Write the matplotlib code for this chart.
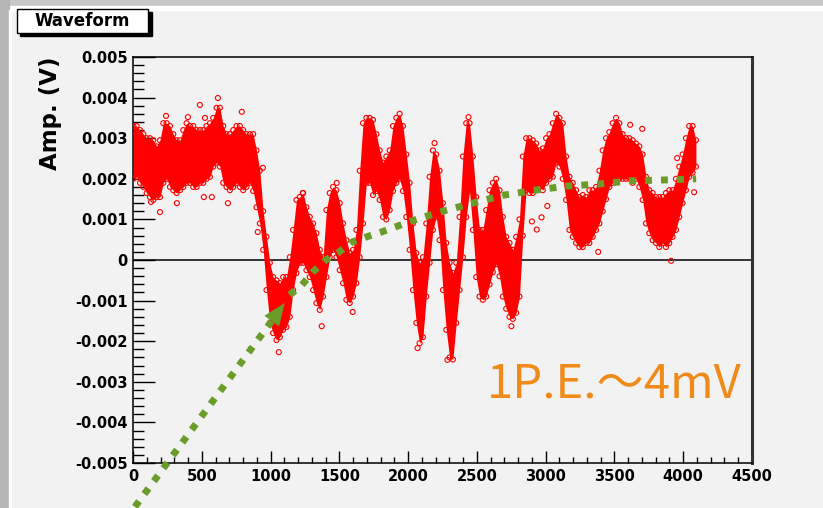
import numpy as np
import matplotlib
matplotlib.use('Agg')
import matplotlib.pyplot as plt
from matplotlib.patches import Rectangle
from matplotlib.ticker import MultipleLocator, FuncFormatter

# upper / lower edge of the dense waveform band (mV), one value every ~24 samples
hi_mv = [3.3, 3.3, 3.2, 3.1, 3.0, 3.0, 2.95, 2.8, 2.95, 3.37,
         3.37, 3.3, 3.1, 2.95, 2.95, 3.2, 3.37, 3.3, 3.3, 3.2,
         3.2, 3.2, 3.3, 3.37, 3.5, 3.75, 3.75, 3.3, 3.1, 3.1,
         3.2, 3.3, 3.3, 3.2, 3.1, 3.1, 3.1, 2.7, 2.2, 1.2,
         0.57, -0.07, -0.42, -0.5, -0.57, -0.42, -0.42, 0.07, 0.74, 1.48,
         1.55, 1.65, 1.3, 1.06, 0.9, 0.66, 0.25, 0.07, 1.23, 1.65,
         1.8, 1.72, 1.4, 0.9, 0.49, 0.17, 0.25, 0.74, 2.2, 3.37,
         3.5, 3.5, 3.45, 3.1, 2.7, 2.4, 2.55, 2.7, 3.3, 3.5,
         3.6, 3.3, 2.6, 1.9, 0.9, 0.17, -0.07, 0.07, 0.9, 2.05,
         2.7, 2.6, 2.2, 1.4, 0.42, -0.07, -0.32, -0.07, 1.06, 2.55,
         3.37, 3.37, 2.55, 1.55, 0.74, 0.74, 1.23, 1.72, 1.9, 2.0,
         1.72, 1.06, 0.57, 0.42, 0.25, 0.57, 1.0, 2.55, 3.0, 3.0,
         2.95, 2.87, 2.7, 2.75, 3.0, 3.1, 3.37, 3.6, 3.5, 3.37,
         2.55, 2.05, 1.9, 1.72, 1.55, 1.6, 1.55, 1.72, 1.72, 1.8,
         2.2, 2.7, 3.0, 3.15, 3.37, 3.5, 3.37, 3.1, 3.0, 3.0,
         2.95, 2.87, 2.8, 2.6, 2.05, 1.72, 1.65, 1.55, 1.55, 1.55,
         1.65, 1.72, 1.72, 2.0, 2.3, 2.6, 3.0, 3.3, 3.3, 2.95]
lo_mv = [2.0, 2.05, 1.9, 1.8, 1.65, 1.55, 1.48, 1.55, 1.55, 1.9,
         2.0, 1.8, 1.72, 1.65, 1.72, 1.8, 1.9, 1.9, 1.8, 1.8,
         1.9, 1.9, 2.0, 2.05, 2.3, 2.4, 2.3, 1.9, 1.8, 1.72,
         1.8, 1.9, 1.8, 1.72, 1.8, 1.9, 1.7, 1.3, 0.9, 0.25,
         -0.74, -1.55, -1.8, -1.97, -1.9, -1.72, -1.65, -1.4, -0.74, -0.32,
         -0.07, -0.07, -0.25, -0.42, -0.74, -1.06, -1.23, -0.9, -0.42, 0.07,
         0.25, 0.07, -0.25, -0.57, -0.98, -1.06, -0.9, -0.57, 0.07, 0.9,
         1.9, 1.9, 1.6, 1.7, 1.48, 1.06, 1.0, 1.23, 1.7, 1.9,
         2.0, 1.7, 1.06, 0.25, -0.74, -1.55, -2.05, -1.9, -0.9, -0.07,
         0.74, 1.06, 0.49, -0.74, -1.72, -2.4, -2.45, -1.55, -0.74, 0.07,
         1.06, 1.7, 0.74, -0.42, -0.9, -0.98, -0.9, -0.6, -0.3, -0.1,
         -0.4, -0.9, -1.2, -1.4, -1.45, -1.3, -0.9, 0.6, 1.72, 1.65,
         1.65, 1.72, 1.8, 1.72, 1.9, 2.0, 2.05, 2.4, 2.3, 2.0,
         1.48, 0.74, 0.57, 0.42, 0.32, 0.32, 0.42, 0.42, 0.57, 0.74,
         0.9, 1.2, 1.5, 1.8, 1.9, 2.0, 2.0, 2.0, 2.0, 2.0,
         1.9, 2.0, 1.8, 1.48, 0.9, 0.66, 0.49, 0.42, 0.32, 0.42,
         0.32, 0.42, 0.57, 0.74, 1.06, 1.4, 1.72, 2.05, 2.15, 2.3]

# stray points outside the band
out_sample = [486, 617, 791, 240, 399, 523, 196, 690, 131, 907, 319, 515, 573,
              1372, 1060, 1597, 1234, 1481, 944, 2069, 2286, 2751, 3382, 3912,
              2439, 2192, 3702, 3614, 3012, 4079, 3956, 2900, 2935, 2970]
out_mv = [3.82, 3.99, 3.65, 3.55, 3.52, 3.50, 1.18, 1.40, 1.43, 0.69, 1.40, 1.55, 1.55,
          -1.63, -2.27, -1.28, 1.65, 1.90, 2.27, -2.17, -2.46, -1.63, 0.20, -0.02,
          3.52, 2.88, 3.23, 3.33, 1.33, 1.67, 2.51, 0.95, 0.75, 1.05]

# hand-drawn 1 p.e. guide and arrow
guide_sample = [1139, 1227, 1306, 1401, 1488, 1590, 1698, 1807, 2025, 2228,
                2468, 2700, 2925, 3150, 3382, 3622, 3854, 4094]
guide_mv = [-0.86, -0.62, -0.30, 0.0, 0.17, 0.44, 0.57, 0.69, 0.96, 1.18,
            1.40, 1.60, 1.72, 1.82, 1.87, 1.95, 1.97, 2.0]
arrow_sample = [14, 1009, 1103]
arrow_mv = [-6.08, -1.50, -1.06]

W, H = 823, 508
green = '#6a9c2a'
orange = '#f08a18'

sample = np.arange(len(hi_mv)) * 24.2 + 2.4
hi = np.array(hi_mv) / 1000
lo = np.array(lo_mv) / 1000

plt.rcParams['font.family'] = 'DejaVu Sans'
fig = plt.figure(figsize=(W / 100, H / 100), dpi=100, facecolor='#f2f2f2')

def fx(px):
    return px / W

def fy(py):
    return 1 - py / H

# window frame strips
fig.patches.append(Rectangle((0, fy(6)), 1, 6 / H, transform=fig.transFigure, color='#c8c8c8'))
fig.patches.append(Rectangle((0, fy(10)), 1, 4 / H, transform=fig.transFigure, color='white'))
fig.patches.append(Rectangle((0, 0), 9 / W, 1, transform=fig.transFigure, color='#b4b4b4'))
fig.patches.append(Rectangle((9 / W, 0), 2 / W, fy(10), transform=fig.transFigure, color='white'))

ax = fig.add_axes([fx(133), fy(463), (752 - 133) / W, (463 - 57) / H])
ax.set_facecolor('#f2f2f2')

ax.axhline(0, color='black', lw=1.1, zorder=1)
ax.fill_between(sample, lo, hi, color='red', lw=0, zorder=2)
ax.scatter(np.r_[sample, sample], np.r_[hi, lo], s=13, facecolors='none',
           edgecolors='red', linewidths=0.8, zorder=3)
ax.scatter(out_sample, np.array(out_mv) / 1000, s=13, facecolors='none',
           edgecolors='red', linewidths=0.8, zorder=3)

dots = dict(color=green, lw=5, ls=(0, (1, 1.3)), dash_capstyle='butt', zorder=5, clip_on=False)
ax.plot(guide_sample, np.array(guide_mv) / 1000, **dots)
ax.plot(arrow_sample[:2], np.array(arrow_mv[:2]) / 1000, **dots)
ax.annotate('', xy=(arrow_sample[2], arrow_mv[2] / 1000),
            xytext=(arrow_sample[1], arrow_mv[1] / 1000),
            arrowprops=dict(arrowstyle='-|>,head_length=1.6,head_width=0.65',
                            mutation_scale=10, color=green, lw=0,
                            shrinkA=0, shrinkB=0), zorder=6)

ax.set_xlim(0, 4500)
ax.set_ylim(-0.005, 0.005)
ax.xaxis.set_major_locator(MultipleLocator(500))
ax.xaxis.set_minor_locator(MultipleLocator(100))
ax.yaxis.set_major_locator(MultipleLocator(0.001))
ax.yaxis.set_minor_locator(MultipleLocator(0.0002))
ax.xaxis.set_major_formatter(FuncFormatter(lambda v, _: f'{int(round(v))}'))
ax.yaxis.set_major_formatter(FuncFormatter(lambda v, _: '0' if abs(v) < 1e-9 else f'{v:.3f}'))
ax.tick_params(axis='both', which='both', direction='in', width=1, color='black',
               top=False, right=False, labelsize=10.5)
ax.tick_params(axis='y', which='major', length=16, pad=4)
ax.tick_params(axis='y', which='minor', length=8)
ax.tick_params(axis='x', which='major', length=8.6, pad=4)
ax.tick_params(axis='x', which='minor', length=4.3)
for lab in ax.get_xticklabels() + ax.get_yticklabels():
    lab.set_fontweight('bold')
for s in ax.spines.values():
    s.set_linewidth(1.1)
ax.spines['right'].set_linewidth(2.2)
ax.spines['right'].set_color('#333333')

fig.text(fx(50), fy(57), 'Amp. (V)', rotation=90, ha='center', va='top',
         fontsize=16.5, fontweight='bold')

# title box with shadow
fig.patches.append(Rectangle((fx(20), fy(36)), 132 / W, 24 / H, transform=fig.transFigure, color='black'))
fig.patches.append(Rectangle((fx(17), fy(33)), 131 / W, 24 / H, transform=fig.transFigure,
                             facecolor='white', edgecolor='black', lw=1))
fig.text(fx(82.5), fy(21.5), 'Waveform', ha='center', va='center', fontsize=12, fontweight='bold')

fig.text(fx(487), fy(397), '1P.E.～4mV', ha='left', va='baseline', fontsize=34,
         color=orange, family=['Noto Sans CJK JP', 'DejaVu Sans'])

fig.savefig('out.png', dpi=100, facecolor=fig.get_facecolor())
